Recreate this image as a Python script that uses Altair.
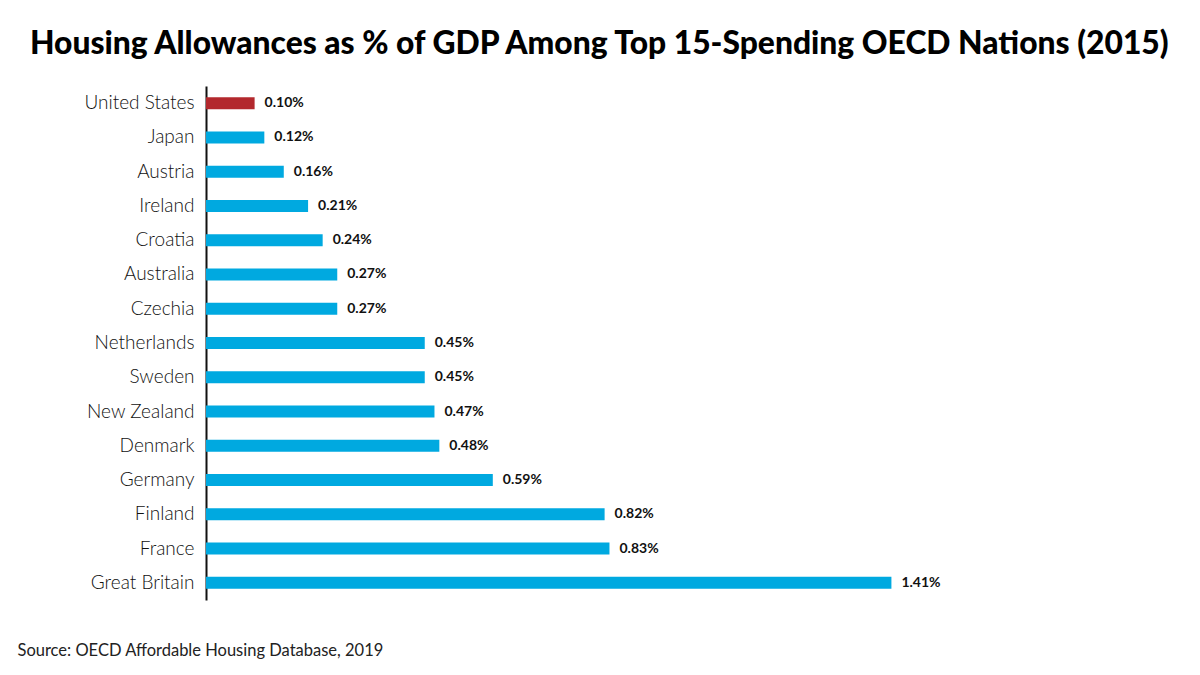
import altair as alt
import pandas as pd

countries = ["United States", "Japan", "Austria", "Ireland", "Croatia", "Australia",
             "Czechia", "Netherlands", "Sweden", "New Zealand", "Denmark", "Germany",
             "Finland", "France", "Great Britain"]
values = [0.10, 0.12, 0.16, 0.21, 0.24, 0.27, 0.27, 0.45, 0.45, 0.47, 0.48, 0.59,
          0.82, 0.83, 1.41]
highlight = ["US" if c == "United States" else "Other" for c in countries]

df = pd.DataFrame({"country": countries, "value": values, "group": highlight})
df["label"] = [f"{v:.2f}%" for v in values]

y_enc = alt.Y("country:N", sort=countries,
              scale=alt.Scale(paddingInner=0.65, paddingOuter=0.325),
              axis=alt.Axis(title=None, domain=True, domainColor="#111", domainWidth=2,
                            ticks=False, labelPadding=12, labelFontSize=19,
                            labelFont="Lato", labelFontWeight=300, labelColor="#111"))
x_enc = alt.X("value:Q", scale=alt.Scale(domain=[0, 1.44], nice=False),
              axis=alt.Axis(domain=False, labels=False, ticks=False, grid=False,
                            title="Source: OECD Affordable Housing Database, 2019",
                            titleFont="Lato", titleFontWeight=400, titleFontSize=16.5,
                            titleColor="#222", titleAnchor="start", titleAlign="left",
                            titleX=-189, titleY=50, titleBaseline="middle"))

bars = alt.Chart(df).mark_bar().encode(
    x=x_enc, y=y_enc,
    color=alt.Color("group:N", scale=alt.Scale(domain=["US", "Other"],
                                               range=["#B3282D", "#00A9E0"]), legend=None),
)
labels = alt.Chart(df).mark_text(align="left", baseline="middle", dx=10, font="Lato",
                                 fontWeight="bold", fontSize=14, color="#111").encode(
    x="value:Q", y=alt.Y("country:N", sort=countries), text="label:N")

chart = (bars + labels).properties(
    width=700, height=514,
    background="white",
    autosize=alt.AutoSizeParams(type="none"),
    padding={"left": 198, "top": 78, "right": 280, "bottom": 62},
    title=alt.TitleParams(text="Housing Allowances as % of GDP Among Top 15-Spending OECD Nations (2015)",
                          anchor="start", frame="group", dx=-176, offset=25,
                          font="Lato", fontWeight=900, fontSize=31.8, color="#000"),
).configure_view(strokeOpacity=0, strokeWidth=0)

chart.save("out.html", embed_options={"renderer": "svg", "actions": False})
